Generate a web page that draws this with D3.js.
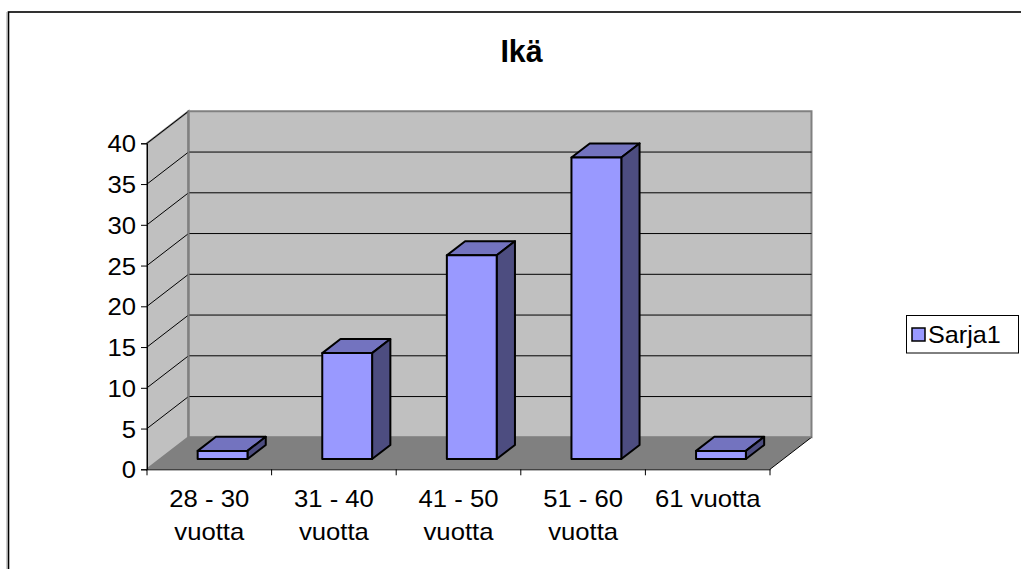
<!DOCTYPE html>
<html><head><meta charset="utf-8">
<script src="https://cdn.jsdelivr.net/npm/d3@7"></script>
<style>html,body{margin:0;padding:0;background:#fff;} svg{display:block;}</style>
</head><body>
<svg id="c" width="1021" height="569"></svg>
<script>
const title = "Ikä";
const categories = ["28 - 30 vuotta", "31 - 40 vuotta", "41 - 50 vuotta", "51 - 60 vuotta", "61 vuotta"];
const categoryLines = [["28 - 30", "vuotta"], ["31 - 40", "vuotta"], ["41 - 50", "vuotta"], ["51 - 60", "vuotta"], ["61 vuotta"]];
const seriesName = "Sarja1";
const values = [1, 13, 25, 37, 1];
const yTicks = [0, 5, 10, 15, 20, 25, 30, 35, 40];

const svg = d3.select("#c");
const FONT = "Arial, 'Liberation Sans', sans-serif";
const FS = 24;
const SX = 1.07;

// layout
const x = d3.scaleBand().domain(categories).range([147, 770]).paddingInner(0).paddingOuter(0);
const y = d3.scaleLinear().domain([0, 40]).range([469.3, 143.3]);
const DX = 41.5, DY = -32;           // full depth offset
const z0 = 0.32, z1 = 0.76;          // bar depth span
const proj = (px, py, z) => [px + z * DX, py + z * DY];

// chart border
svg.append("rect").attr("x", 8.5).attr("y", 12).attr("width", 1200).attr("height", 800)
  .attr("fill", "none").attr("stroke", "#000").attr("stroke-width", 1.6);
svg.append("line").attr("x1", 7).attr("x2", 7).attr("y1", 12).attr("y2", 569)
  .attr("stroke", "#999").attr("stroke-width", 1);

const x0 = x.range()[0], x1 = x.range()[1];
const yb = y(0), yt = y(40);
const pts = a => a.map(p => p.join(",")).join(" ");

// side wall
svg.append("polygon").attr("points", pts([[x0, yb], [x0, yt], proj(x0, yt, 1), proj(x0, yb, 1)]))
  .attr("fill", "#C0C0C0").attr("stroke", "#808080").attr("stroke-width", 2);
// back wall
svg.append("polygon").attr("points", pts([proj(x0, yt, 1), proj(x1, yt, 1), proj(x1, yb, 1), proj(x0, yb, 1)]))
  .attr("fill", "#C0C0C0").attr("stroke", "#808080").attr("stroke-width", 2);

// gridlines
const grid = svg.append("g");
yTicks.filter(v => v > 0 && v < 40).forEach(v => {
  const a = proj(x0, y(v), 1), b = proj(x1, y(v), 1);
  grid.append("line").attr("x1", a[0]).attr("y1", a[1]).attr("x2", b[0]).attr("y2", b[1])
    .attr("stroke", "#000").attr("stroke-width", 1);
});
yTicks.filter(v => v > 0).forEach(v => {
  const a = proj(x0, y(v), 0), b = proj(x0, y(v), 1);
  grid.append("line").attr("x1", a[0]).attr("y1", a[1]).attr("x2", b[0]).attr("y2", b[1])
    .attr("stroke", "#000").attr("stroke-width", 1);
});
svg.append("line").attr("x1", proj(x0, yt, 1)[0]).attr("y1", proj(x0, yt, 1)[1])
  .attr("x2", proj(x0, yb, 1)[0]).attr("y2", proj(x0, yb, 1)[1])
  .attr("stroke", "#808080").attr("stroke-width", 2);

// floor
svg.append("polygon").attr("points", pts([[x0, yb], [x1, yb], proj(x1, yb, 1), proj(x0, yb, 1)]))
  .attr("fill", "#808080").attr("stroke", "none");
svg.append("line").attr("x1", x1).attr("y1", yb).attr("x2", proj(x1, yb, 1)[0]).attr("y2", proj(x1, yb, 1)[1])
  .attr("stroke", "#000").attr("stroke-width", 1);
svg.append("line").attr("x1", proj(x0, yb, 1)[0]).attr("y1", proj(x0, yb, 1)[1]).attr("x2", proj(x1, yb, 1)[0]).attr("y2", proj(x1, yb, 1)[1])
  .attr("stroke", "#808080").attr("stroke-width", 1);

// axes
const yAxis = d3.axisLeft(y).tickValues(yTicks).tickSize(6).tickPadding(6);
const gy = svg.append("g").attr("transform", `translate(${x0},0)`).call(yAxis);
gy.select(".domain").attr("stroke", "#000").attr("stroke-width", 1);
gy.selectAll(".tick line").attr("stroke", "#000");
gy.selectAll(".tick text").attr("font-family", FONT).attr("font-size", FS).attr("fill", "#000")
  .attr("dy", null).attr("y", 0).attr("x", 0)
  .attr("transform", `translate(-11,8.5) scale(${SX},1)`);

const xAxis = d3.axisBottom(x).tickSize(0).tickFormat("");
const gx = svg.append("g").attr("transform", `translate(0,${yb})`).call(xAxis);
gx.select(".domain").attr("stroke", "#000").attr("stroke-width", 1);
const bounds = categories.map(c => x(c)).concat([x1]);
gx.selectAll(".btick").data(bounds).join("line").attr("class", "btick")
  .attr("x1", d => d).attr("x2", d => d).attr("y1", 0).attr("y2", 6).attr("stroke", "#000");

// category labels
categories.forEach((c, i) => {
  const cx = x(c) + x.bandwidth() / 2;
  categoryLines[i].forEach((ln, j) => {
    svg.append("text").text(ln).attr("text-anchor", "middle")
      .attr("font-family", FONT).attr("font-size", FS).attr("fill", "#000")
      .attr("transform", `translate(${cx},${506.5 + j * 33.5}) scale(${SX},1)`);
  });
});

// bars
const bw = x.bandwidth() / 2.5;
const bars = svg.append("g");
categories.forEach((c, i) => {
  const xl = x(c) + (x.bandwidth() - bw) / 2, xr = xl + bw;
  const yT = y(values[i]), yB = y(0);
  const fl = proj(xl, yT, z0), fr = proj(xr, yT, z0), brb = proj(xr, yB, z0), blb = proj(xl, yB, z0);
  const tl = proj(xl, yT, z1), tr = proj(xr, yT, z1), br2 = proj(xr, yB, z1);
  bars.append("polygon").attr("points", pts([fl, fr, tr, tl]))
    .attr("fill", "#7373BF").attr("stroke", "#000").attr("stroke-width", 2).attr("stroke-linejoin", "round");
  bars.append("polygon").attr("points", pts([fr, tr, br2, brb]))
    .attr("fill", "#4D4D80").attr("stroke", "#000").attr("stroke-width", 2).attr("stroke-linejoin", "round");
  bars.append("polygon").attr("points", pts([fl, fr, brb, blb]))
    .attr("fill", "#9999FF").attr("stroke", "#000").attr("stroke-width", 2).attr("stroke-linejoin", "round");
});

// title
svg.append("text").text(title).attr("text-anchor", "middle")
  .attr("font-family", FONT).attr("font-size", 32).attr("font-weight", "bold").attr("fill", "#000")
  .attr("transform", `translate(521.5,62) scale(0.95,1)`);

// legend
const lg = svg.append("g");
lg.append("rect").attr("x", 906.5).attr("y", 315.5).attr("width", 112).attr("height", 37.5)
  .attr("fill", "#fff").attr("stroke", "#000").attr("stroke-width", 1);
lg.append("rect").attr("x", 912).attr("y", 328).attr("width", 13).attr("height", 13)
  .attr("fill", "#9999FF").attr("stroke", "#000").attr("stroke-width", 1.5);
lg.append("text").text(seriesName).attr("font-family", FONT).attr("font-size", FS).attr("fill", "#000")
  .attr("transform", `translate(928,343) scale(1.05,1)`);
</script>
</body></html>
